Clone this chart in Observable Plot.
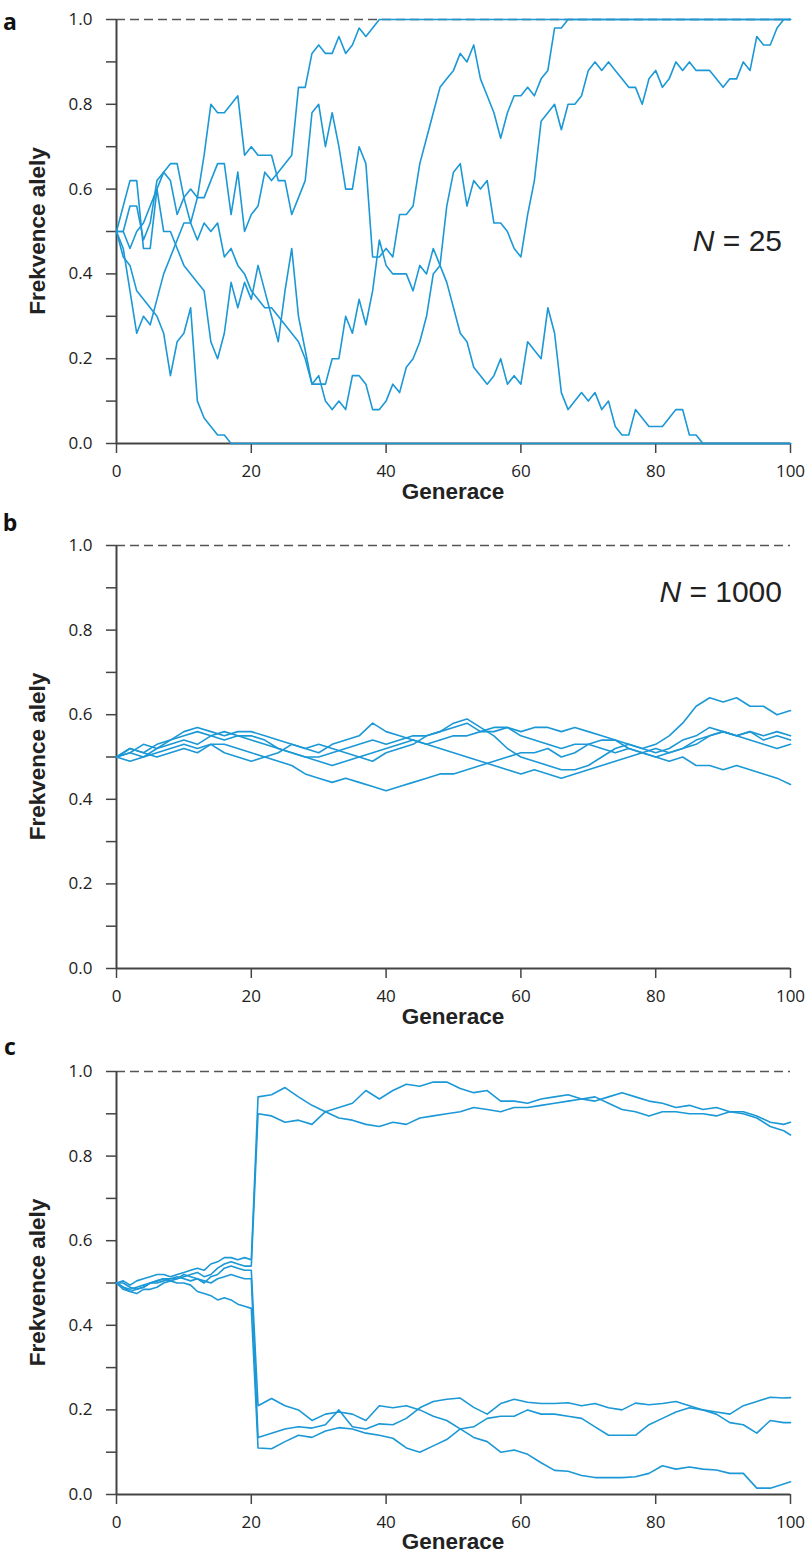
<!DOCTYPE html>
<html><head><meta charset="utf-8">
<script src="https://cdn.jsdelivr.net/npm/d3@7"></script>
<script src="https://cdn.jsdelivr.net/npm/@observablehq/plot@0.6"></script>
<style>
html,body{margin:0;padding:0;background:#fff;overflow:hidden;}
#chart{width:811px;}
</style></head><body><div id="chart"></div>
<script>
// ---------- Panel a: N = 25 (every generation 0..100) ----------
const genA = d3.range(0, 101);
const a1 = [
 .50,.50,.56,.56,.48,.52,.62,.64,.62,.54,
 .58,.60,.58,.58,.62,.66,.66,.54,.64,.50,
 .54,.56,.64,.62,.64,.66,.68,.84,.84,.92,
 .94,.92,.92,.96,.92,.94,.98,.96,.98,1,
 1,1,1,1,1,1,1,1,1,1,
 1,1,1,1,1,1,1,1,1,1,
 1,1,1,1,1,1,1,1,1,1,
 1,1,1,1,1,1,1,1,1,1,
 1,1,1,1,1,1,1,1,1,1,
 1,1,1,1,1,1,1,1,1,1,
 1];
const a2 = [
 .50,.56,.62,.62,.46,.46,.60,.64,.66,.66,
 .58,.52,.58,.68,.80,.78,.78,.80,.82,.68,
 .70,.68,.68,.68,.62,.62,.54,.58,.62,.78,
 .80,.70,.78,.70,.60,.60,.70,.66,.44,.44,
 .46,.44,.54,.54,.56,.66,.72,.78,.84,.86,
 .88,.92,.90,.94,.86,.82,.78,.72,.78,.82,
 .82,.84,.82,.86,.88,.98,.98,1,1,1,
 1,1,1,1,1,1,1,1,1,1,
 1,1,1,1,1,1,1,1,1,1,
 1,1,1,1,1,1,1,1,1,1,
 1];
const a3 = [
 .50,.50,.46,.50,.52,.56,.60,.50,.50,.46,
 .42,.40,.38,.36,.24,.20,.26,.38,.32,.38,
 .34,.42,.36,.30,.24,.36,.46,.30,.22,.14,
 .16,.10,.08,.10,.08,.16,.16,.14,.08,.08,
 .10,.14,.12,.18,.20,.24,.30,.40,.42,.56,
 .64,.66,.56,.62,.60,.62,.52,.52,.50,.46,
 .44,.54,.62,.76,.78,.80,.74,.80,.80,.82,
 .88,.90,.88,.90,.88,.86,.84,.84,.80,.86,
 .88,.84,.86,.90,.88,.90,.88,.88,.88,.86,
 .84,.86,.86,.90,.88,.96,.94,.94,.98,1,
 1];
const a4 = [
 .50,.44,.42,.36,.34,.32,.30,.26,.16,.24,
 .26,.32,.10,.06,.04,.02,.02,0,0,0,
 0,0,0,0,0,0,0,0,0,0,
 0,0,0,0,0,0,0,0,0,0,
 0,0,0,0,0,0,0,0,0,0,
 0,0,0,0,0,0,0,0,0,0,
 0,0,0,0,0,0,0,0,0,0,
 0,0,0,0,0,0,0,0,0,0,
 0,0,0,0,0,0,0,0,0,0,
 0,0,0,0,0,0,0,0,0,0,
 0];
const a5 = [
 .50,.46,.36,.26,.30,.28,.34,.40,.44,.48,
 .52,.52,.48,.52,.50,.52,.44,.46,.42,.40,
 .36,.34,.32,.32,.30,.28,.26,.24,.20,.14,
 .14,.14,.20,.20,.30,.26,.34,.28,.36,.48,
 .42,.40,.40,.40,.36,.42,.40,.46,.42,.38,
 .32,.26,.24,.18,.16,.14,.16,.20,.14,.16,
 .14,.24,.22,.20,.32,.26,.12,.08,.10,.12,
 .10,.12,.08,.10,.04,.02,.02,.08,.06,.04,
 .04,.04,.06,.08,.08,.02,.02,0,0,0,
 0,0,0,0,0,0,0,0,0,0,
 0];

// ---------- Panel b: N = 1000 (every 2nd generation) ----------
const genB = d3.range(0, 101, 2);
const b1 = [.50,.51,.53,.52,.53,.54,.53,.55,.54,.55,
 .55,.54,.52,.51,.50,.50,.51,.52,.53,.54,
 .53,.54,.55,.55,.56,.57,.58,.56,.57,.57,
 .55,.54,.53,.52,.53,.53,.54,.54,.53,.52,
 .53,.55,.58,.62,.64,.63,.64,.62,.62,.60,
 .61];
const b2 = [.50,.49,.50,.51,.52,.53,.52,.53,.51,.50,
 .49,.50,.49,.48,.46,.45,.44,.45,.44,.43,
 .42,.43,.44,.45,.46,.46,.47,.48,.49,.50,
 .51,.51,.52,.50,.51,.53,.52,.51,.52,.51,
 .50,.49,.50,.48,.48,.47,.48,.47,.46,.45,
 .435];
const b3 = [.50,.52,.51,.53,.54,.55,.56,.55,.56,.55,
 .54,.53,.52,.51,.50,.49,.48,.49,.50,.51,
 .52,.53,.54,.53,.54,.55,.55,.56,.56,.57,
 .56,.57,.57,.56,.57,.56,.55,.54,.52,.51,
 .50,.51,.52,.54,.55,.56,.55,.56,.55,.56,
 .55];
const b4 = [.50,.52,.51,.50,.51,.52,.51,.53,.53,.52,
 .51,.50,.51,.53,.52,.51,.53,.54,.55,.58,
 .56,.55,.54,.53,.52,.51,.50,.49,.48,.47,
 .46,.47,.46,.45,.46,.47,.48,.49,.50,.51,
 .52,.51,.52,.53,.55,.56,.55,.56,.54,.55,
 .54];
const b5 = [.50,.51,.50,.52,.54,.56,.57,.56,.55,.56,
 .56,.55,.54,.53,.52,.53,.52,.51,.50,.49,
 .51,.52,.53,.55,.56,.58,.59,.57,.55,.52,
 .50,.49,.48,.47,.47,.48,.50,.52,.53,.52,
 .51,.52,.54,.55,.57,.56,.55,.54,.53,.52,
 .53];

// ---------- Panel c: bottleneck at generation 20 ----------
const genC = [...d3.range(0, 21), ...d3.range(21, 100, 2), 100];
const c1 = [.50,.505,.495,.505,.51,.515,.52,.52,.515,.52,.525,.53,.535,.53,.545,.55,.56,.56,.555,.56,.555,
 .94,.945,.962,.94,.92,.905,.915,.925,.955,.935,.955,.97,.965,.975,.975,.96,.95,.955,.93,.93,
 .925,.935,.94,.945,.935,.93,.94,.95,.94,.93,.925,.915,.92,.91,.915,.905,.905,.895,.88,.875,.88];
const c2 = [.50,.49,.485,.49,.495,.50,.505,.51,.505,.51,.515,.52,.525,.515,.52,.535,.545,.55,.545,.54,.54,
 .90,.895,.88,.885,.875,.905,.89,.885,.875,.87,.88,.875,.89,.895,.90,.905,.915,.91,.905,.915,
 .915,.92,.925,.93,.935,.94,.925,.91,.905,.895,.905,.905,.90,.90,.895,.905,.90,.89,.87,.86,.85];
const c3 = [.50,.485,.48,.485,.49,.50,.50,.505,.51,.51,.52,.515,.51,.50,.515,.52,.535,.54,.535,.53,.53,
 .21,.227,.21,.20,.175,.19,.195,.19,.175,.21,.205,.21,.20,.185,.175,.155,.135,.125,.10,.105,
 .095,.075,.057,.055,.045,.04,.04,.04,.042,.05,.068,.06,.065,.06,.058,.05,.05,.015,.015,.025,.03];
const c4 = [.50,.50,.49,.485,.49,.50,.505,.51,.51,.515,.51,.505,.51,.505,.50,.51,.515,.52,.515,.51,.51,
 .135,.145,.155,.16,.157,.165,.20,.16,.155,.167,.165,.18,.205,.22,.225,.228,.206,.19,.215,.225,
 .218,.215,.215,.217,.21,.215,.205,.20,.216,.212,.215,.22,.21,.20,.195,.19,.21,.22,.23,.228,.229];
const c5 = [.50,.49,.48,.475,.485,.485,.49,.50,.505,.50,.50,.495,.48,.475,.47,.46,.465,.46,.45,.445,.44,
 .11,.108,.125,.14,.135,.15,.158,.155,.145,.14,.133,.11,.10,.115,.13,.155,.16,.18,.185,.185,
 .20,.19,.19,.185,.18,.16,.14,.14,.14,.165,.18,.195,.205,.20,.19,.17,.165,.145,.175,.17,.17];

// ---------- Axes ----------
const xTicks = [0, 20, 40, 60, 80, 100];
const yTicks = [0, 0.1, 0.2, 0.3, 0.4, 0.5, 0.6, 0.7, 0.8, 0.9, 1.0];
const xTitle = "Generace";
const yTitle = "Frekvence alely";
const lineColor = "#1b98d5";

const panels = [
  {letter: "a", nLabel: "25", series: [a1,a2,a3,a4,a5], gens: genA, height: 505, marginTop: 19, marginBottom: 62, letterY: 30, nY: 251, xTitleOffset: 56},
  {letter: "b", nLabel: "1000", series: [b1,b2,b3,b4,b5], gens: genB, height: 524, marginTop: 40, marginBottom: 61, letterY: 26, nY: 97, xTitleOffset: 56},
  {letter: "c", nLabel: null, series: [c1,c2,c3,c4,c5], gens: genC, height: 525, marginTop: 42, marginBottom: 60, letterY: 26, nY: 0, xTitleOffset: 55}
];

const root = document.getElementById("chart");
for (const p of panels) {
  const data = p.series.flatMap((vals, i) => vals.map((v, j) => ({g: p.gens[j], v, run: i})));
  const svg = Plot.plot({
    width: 811, height: p.height,
    marginLeft: 116, marginRight: 21, marginTop: p.marginTop, marginBottom: p.marginBottom,
    style: {fontFamily: "'Open Sans', sans-serif", fontSize: "17px", color: "#222", background: "#fff"},
    x: {domain: [0, 100], axis: null},
    y: {domain: [0, 1], axis: null},
    marks: [
      Plot.axisX({ticks: xTicks, tickSize: 10, tickPadding: 11, stroke: "#444", strokeWidth: 1.5, fill: "#222", label: null, tickFormat: d => String(d)}),
      Plot.axisY({ticks: yTicks, tickSize: 10, tickPadding: 14, stroke: "#444", strokeWidth: 1.5, fill: "#222", label: null,
                  tickFormat: d => (Math.round(d * 10) % 2 === 0 ? d.toFixed(1) : "")}),
      Plot.ruleY([1], {stroke: "#555", strokeWidth: 1.5, strokeDasharray: "9,5"}),
      Plot.ruleX([0], {stroke: "#444", strokeWidth: 2}),
      Plot.ruleY([0], {stroke: "#444", strokeWidth: 2}),
      Plot.line(data, {x: "g", y: "v", z: "run", stroke: lineColor, strokeWidth: 1.6})
    ]
  });
  const s = d3.select(svg);
  const plotBottom = p.height - p.marginBottom;
  s.append("text").attr("x", 10).attr("y", p.letterY)
    .style("font-family", "'Open Sans', sans-serif").style("font-weight", 700).style("font-size", "23px").style("fill", "#111")
    .text(p.letter);
  s.append("text").attr("transform", `translate(45,${(p.marginTop + plotBottom) / 2}) rotate(-90)`)
    .attr("text-anchor", "middle")
    .style("font-family", "'Liberation Sans', Arial, sans-serif").style("font-weight", 700).style("font-size", "22.5px").style("fill", "#222")
    .text(yTitle);
  s.append("text").attr("x", (116 + 790) / 2).attr("y", plotBottom + p.xTitleOffset)
    .attr("text-anchor", "middle")
    .style("font-family", "'Liberation Sans', Arial, sans-serif").style("font-weight", 700).style("font-size", "22.5px").style("fill", "#222")
    .text(xTitle);
  if (p.nLabel) {
    const t = s.append("text").attr("x", 782).attr("y", p.nY).attr("text-anchor", "end")
      .style("font-family", "'Liberation Sans', Arial, sans-serif").style("font-size", "30px").style("fill", "#222");
    t.append("tspan").style("font-style", "italic").text("N");
    t.append("tspan").text(" = " + p.nLabel);
  }
  root.appendChild(svg);
}
</script>
</body></html>
